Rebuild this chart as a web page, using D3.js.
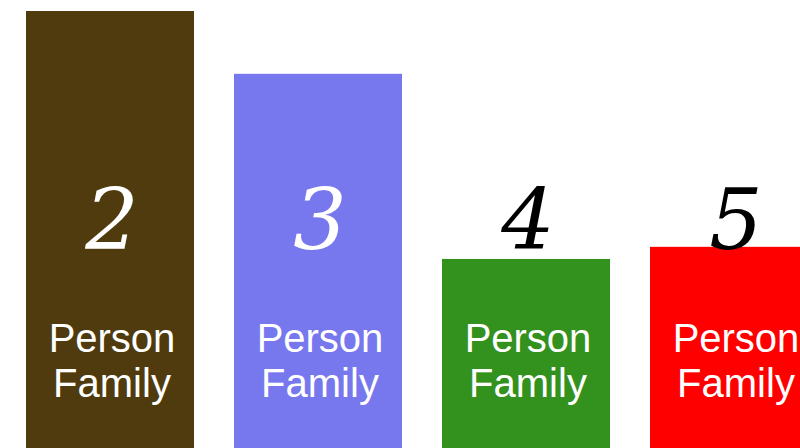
<!DOCTYPE html>
<html>
<head>
<meta charset="utf-8">
<script src="https://cdn.jsdelivr.net/npm/d3@7"></script>
<style>
  html, body { margin: 0; padding: 0; background: #fff; overflow: hidden; }
</style>
</head>
<body>
<div id="chart"></div>
<script>
// Data
const sizes = ["2", "3", "4", "5"];
const values = [100, 88.6, 55, 57.2];
const colors = ["#4f3b0d", "#7777ee", "#33911e", "#ff0000"];
const lineOne = "Person";
const lineTwo = "Family";

const width = 800, height = 448;

const svg = d3.select("#chart")
    .append("svg")
    .attr("width", width)
    .attr("height", height);

// Band scale spills past the right edge, like the original crop
const x = d3.scaleBand()
    .domain(sizes)
    .range([6, 838])
    .paddingInner(40 / 208)
    .paddingOuter(20 / 208);

const y = d3.scaleLinear()
    .domain([0, 100])
    .range([562, 11]);

const numBaseline = 249;
const numTop = 188;

const g = svg.selectAll("g.bar")
    .data(sizes)
    .join("g")
    .attr("class", "bar");

g.append("rect")
    .attr("x", d => x(d))
    .attr("y", (d, i) => y(values[i]))
    .attr("width", x.bandwidth())
    .attr("height", (d, i) => y(0) - y(values[i]))
    .attr("fill", (d, i) => colors[i]);

// Big italic number: white inside the bar, black when it sits above it
g.append("text")
    .attr("x", d => x(d) + x.bandwidth() / 2 + 2)
    .attr("y", numBaseline)
    .attr("text-anchor", "middle")
    .style("font-family", "'DejaVu Serif', 'Liberation Serif', serif")
    .style("font-style", "italic")
    .style("font-size", "84px")
    .attr("fill", (d, i) => y(values[i]) < numTop ? "#fff" : "#000")
    .text(d => d);

const label = g.append("text")
    .attr("x", d => x(d) + x.bandwidth() / 2)
    .attr("y", 352)
    .attr("text-anchor", "middle")
    .style("font-family", "'Liberation Sans', Arial, sans-serif")
    .style("font-size", "40px")
    .attr("fill", "#fff");

label.append("tspan")
    .attr("x", d => x(d) + x.bandwidth() / 2 + 2)
    .text(lineOne);

label.append("tspan")
    .attr("x", d => x(d) + x.bandwidth() / 2 + 2)
    .attr("dy", 45)
    .text(lineTwo);
</script>
</body>
</html>
